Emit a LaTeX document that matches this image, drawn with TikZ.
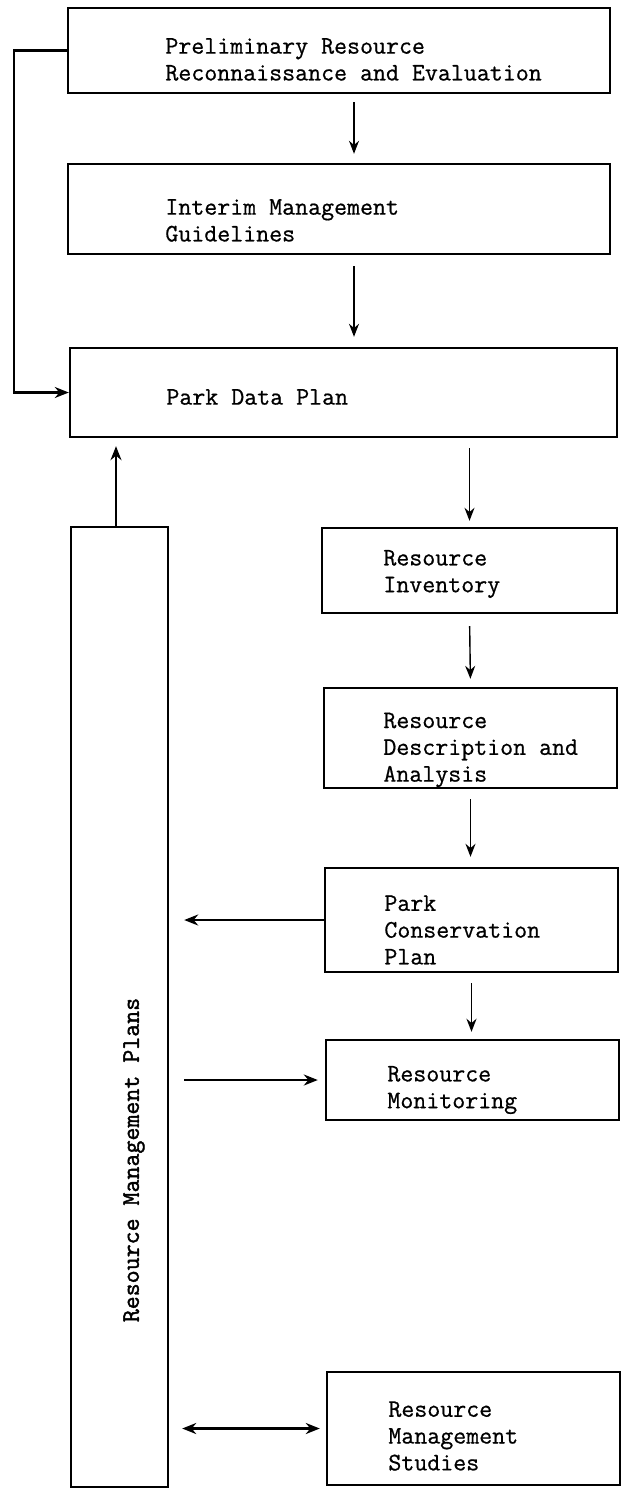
\documentclass[tikz,border=0pt]{standalone}
\usepackage{fontspec}
\usetikzlibrary{arrows.meta,positioning}
\newfontfamily\typer{Latin Modern Mono}[FakeBold=0.7]
\newfontfamily\typerb{Latin Modern Mono}[FakeBold=1.6]
\tikzset{
	blk/.style={draw, line width=1.2pt, inner sep=0pt},
	txt/.style={font=\typer\fontsize{12.6}{13.4}\selectfont, align=left,
		anchor=west, inner sep=0pt},
	flow/.style={line width=0.7pt, -{Stealth[length=6.5pt, width=5pt]}},
	link/.style={line width=1.3pt, -{Stealth[length=7pt, width=5.5pt]}},
}

\begin{document}
\begin{tikzpicture}[x=0.5pt, y=-0.5pt]
	\useasboundingbox (0,0) rectangle (621,1489);
	% boxes
	\node[blk, minimum width=271pt, minimum height=42.5pt] at (339.0,50.5) (pre) {};
	\node[blk, minimum width=271pt, minimum height=45pt] at (339.0,209.0) (img) {};
	\node[blk, minimum width=273.5pt, minimum height=44.5pt] at (343.5,392.5) (pdp) {};
	\node[blk, minimum width=48.5pt, minimum height=480pt] at (119.5,1007.0) (rmp) {};
	\node[blk, minimum width=147.5pt, minimum height=42.5pt] at (469.5,570.5) (inv) {};
	\node[blk, minimum width=146.5pt, minimum height=50pt] at (470.5,738.0) (rda) {};
	\node[blk, minimum width=146.5pt, minimum height=52pt] at (471.5,920.0) (pcp) {};
	\node[blk, minimum width=146.5pt, minimum height=40pt] at (472.5,1080.0) (mon) {};
	\node[blk, minimum width=146.5pt, minimum height=56.5pt] at (473.5,1428.5) (rms) {};
	% labels
	\node[txt] at (165,59.5) (pretxt) {Preliminary Resource\\Reconnaissance and Evaluation};
	\node[txt] at (165,220.5) (imgtxt) {Interim Management\\Guidelines};
	\node[txt] at (166,397.0) (pdptxt) {Park Data Plan};
	\node[txt] at (383,574.0) (invtxt) {Resource\\Inventory};
	\node[txt] at (383,750.0) (rdatxt) {Resource\\Description and\\Analysis};
	\node[txt] at (384,930.0) (pcptxt) {Park\\Conservation\\Plan};
	\node[txt] at (387,1090.0) (montxt) {Resource\\Monitoring};
	\node[txt] at (388,1436.0) (rmstxt) {Resource\\Management\\Studies};
	\node[txt, anchor=center, rotate=90, font=\typerb\fontsize{12.6}{13.4}\selectfont] at (134,1160) (rmptxt) {Resource Management Plans};
	% main chain
	\draw[flow, shorten <=4pt, shorten >=4.5pt] (pre.south -| 354,0) -- (img.north -| 354,0);
	\draw[flow, shorten <=5.5pt, shorten >=5pt] (img.south -| 354,0) -- (pdp.north -| 354,0);
	\draw[flow, shorten <=5pt, shorten >=3pt] (inv.north |- pdp.south) -- (inv.north);
	\draw[flow, shorten <=6pt, shorten >=4pt] (inv.south) -- (rda.north);
	\draw[flow, shorten <=5pt, shorten >=5pt] (rda.south) -- (rda.south |- pcp.north);
	\draw[flow, line width=0.9pt, shorten <=5pt, shorten >=3.5pt] (pcp.south) -- (pcp.south |- mon.north);
	% feedback from the first box
	\coordinate (fb) at (14,0);
	\draw[link, line width=1.1pt] (pre.west) -- (pre.west -| fb) -- (pdp.west -| fb) -- (pdp.west);
	% links with the plans column
	\draw[link, line width=1.1pt, shorten >=4pt] (rmp.north -| 116,0) -- (pdp.south -| 116,0);
	\draw[link, shorten >=7.5pt] (pcp.west) -- (pcp.west -| rmp.east);
	\draw[link, shorten <=7.5pt, shorten >=3.5pt] (mon.west -| rmp.east) -- (mon.west);
	\draw[link, {Stealth[length=7pt, width=5.5pt]}-{Stealth[length=7pt, width=5.5pt]}, shorten <=6.5pt, shorten >=3pt] (rms.west -| rmp.east) -- (rms.west);
\end{tikzpicture}
\end{document}
